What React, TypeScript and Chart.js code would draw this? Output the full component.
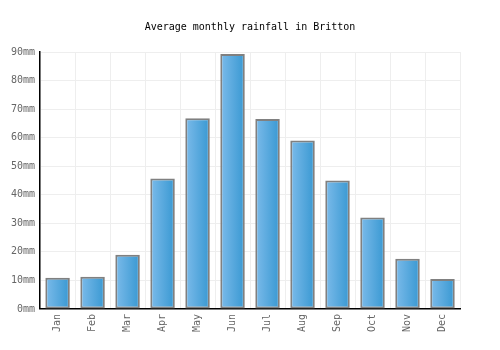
import React, { useEffect, useRef } from "react";
import { Chart, registerables } from "chart.js";

Chart.register(...registerables);

const months = ["Jan", "Feb", "Mar", "Apr", "May", "Jun", "Jul", "Aug", "Sep", "Oct", "Nov", "Dec"];
const rainfall = [10.9, 11.3, 19.0, 45.7, 66.8, 89.3, 66.5, 59.0, 45.0, 32.0, 17.6, 10.5];
const yTicks = [0, 10, 20, 30, 40, 50, 60, 70, 80, 90];
const titleText = "Average monthly rainfall in Britton";
const FONT = "'DejaVu Sans Mono', monospace";

const gradientPlugin = {
  id: "barGradient",
  beforeDatasetsDraw(chart: any) {
    const ctx = chart.ctx;
    chart.getSortedVisibleDatasetMetas().forEach((meta: any) => {
      meta.data.forEach((bar: any) => {
        const x0 = bar.x - bar.width / 2;
        const x1 = bar.x + bar.width / 2;
        const g = ctx.createLinearGradient(x0, 0, x1, 0);
        g.addColorStop(0, "#7cbbea");
        g.addColorStop(1, "#3898d2");
        bar.options = Object.assign({}, bar.options, { backgroundColor: g });
      });
    });
  },
};

const titlePlugin = {
  id: "centeredTitle",
  afterDraw(chart: any) {
    const ctx = chart.ctx;
    ctx.save();
    ctx.font = "10px " + FONT;
    ctx.fillStyle = "#000";
    ctx.textAlign = "center";
    ctx.textBaseline = "middle";
    ctx.fillText(titleText, chart.width / 2, 27);
    ctx.restore();
  },
};

export default function App() {
  const ref = useRef<HTMLCanvasElement>(null);
  useEffect(() => {
    document.body.style.margin = "0";
    const chart = new Chart(ref.current!, {
      type: "bar",
      data: {
        labels: months,
        datasets: [
          {
            data: rainfall,
            backgroundColor: () => "#5aaae0",
            borderColor: "#808080",
            borderWidth: 2,
            borderSkipped: false,
            barPercentage: 0.7,
            categoryPercentage: 1,
          },
        ],
      },
      plugins: [gradientPlugin, titlePlugin],
      options: {
        animation: false,
        responsive: false,
        layout: { padding: { left: 6, right: 40, top: 52, bottom: 13 } },
        plugins: {
          legend: { display: false },
          tooltip: { enabled: false },
          title: { display: false },
        },
        scales: {
          x: {
            grid: { color: "#eeeeee", drawTicks: false, offset: true },
            border: { color: "#000", width: 1.5 },
            ticks: {
              color: "#666",
              font: { family: FONT, size: 10 },
              minRotation: 90,
              maxRotation: 90,
              padding: 5,
            },
          },
          y: {
            min: 0,
            max: 90,
            afterBuildTicks: (axis: any) => {
              axis.ticks = yTicks.map((v) => ({ value: v }));
            },
            grid: { color: "#eeeeee", drawTicks: false },
            border: { color: "#000", width: 1.5 },
            ticks: {
              color: "#666",
              font: { family: FONT, size: 10 },
              padding: 5,
              callback: (v: any) => v + "mm",
            },
          },
        },
      },
    });
    return () => chart.destroy();
  }, []);
  return <canvas ref={ref} width={500} height={350} style={{ display: "block" }} />;
}
